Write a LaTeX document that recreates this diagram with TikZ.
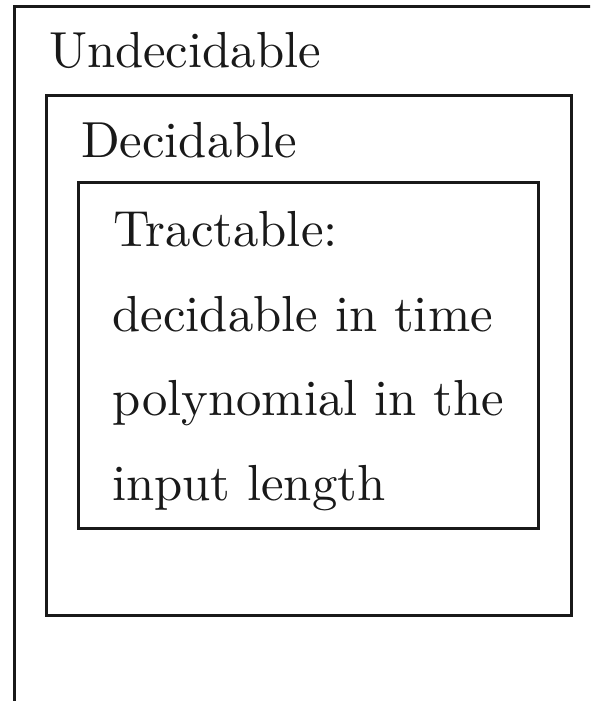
\documentclass[tikz,border=0pt]{standalone}
\usepackage{fontspec}
\begin{document}
\begin{tikzpicture}[x=0.2pt,y=-0.2pt,
  frame/.style={draw=black!90, line width=0.6pt},
  lbl/.style={anchor=base west, inner sep=0pt, font=\fontsize{10.14}{12}\selectfont, text=black!90}]
\clip (0,0) rectangle (590,701);
\draw[frame] (14.2,6.5) rectangle (640,760);
\draw[frame] (46.7,95.5) rectangle (571.7,615.8);
\draw[frame] (78.8,182.2) rectangle (538.2,528.8);
\node[lbl] (undec) at (48,67.7) {Undecidable};
\node[lbl] (dec) at (80,157.5) {Decidable};
\node[lbl] (tr1) at (112.5,247) {Tractable:};
\node[lbl] (tr2) at (111.5,331.5) {decidable in time};
\node[lbl] (tr3) at (111.5,416) {polynomial in the};
\node[lbl] (tr4) at (111,500.5) {input length};
\end{tikzpicture}
\end{document}
